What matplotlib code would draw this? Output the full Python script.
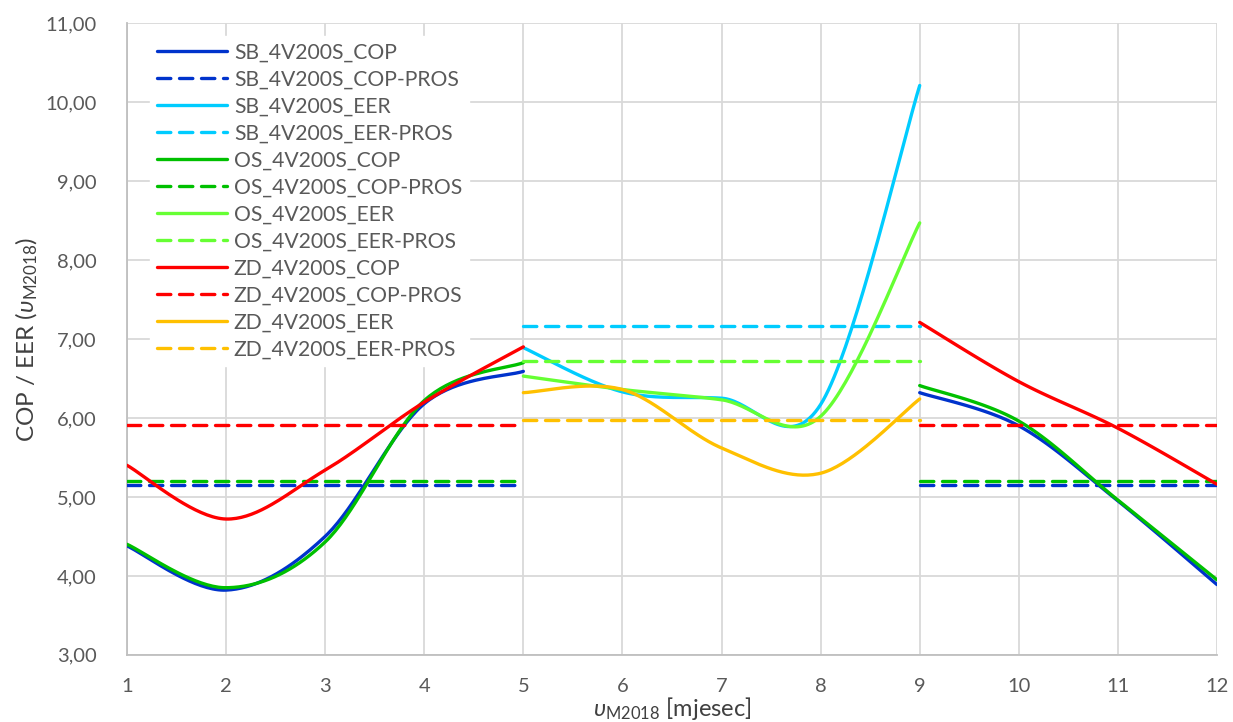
import matplotlib
matplotlib.use('Agg')
import matplotlib.pyplot as plt
import numpy as np

plt.rcParams['font.family'] = ['Lato', 'DejaVu Sans']
plt.rcParams['mathtext.fontset'] = 'custom'
plt.rcParams['mathtext.rm'] = 'Lato'
plt.rcParams['mathtext.it'] = 'Lato:italic'

# values
months_cop_a = [1, 2, 3, 4, 5]
months_cop_b = [9, 10, 11, 12]
months_eer = [5, 6, 7, 8, 9]

sb_cop_a = [4.38, 3.82, 4.50, 6.18, 6.59]
os_cop_a = [4.40, 3.85, 4.43, 6.22, 6.70]
zd_cop_a = [5.40, 4.72, 5.34, 6.20, 6.90]
sb_cop_b = [6.32, 5.90, 4.95, 3.89]
os_cop_b = [6.41, 5.96, 4.96, 3.95]
zd_cop_b = [7.21, 6.46, 5.87, 5.16]

sb_eer = [6.89, 6.33, 6.25, 6.17, 10.21]
os_eer = [6.53, 6.36, 6.23, 6.02, 8.47]
zd_eer = [6.32, 6.36, 5.62, 5.30, 6.24]

sb_cop_pros = 5.15
os_cop_pros = 5.20
zd_cop_pros = 5.91
sb_eer_pros = 7.17
os_eer_pros = 6.72
zd_eer_pros = 5.97

y_ticks = [3, 4, 5, 6, 7, 8, 9, 10, 11]
x_ticks = list(range(1, 13))

colors = {'SB_COP': '#0033CC', 'SB_EER': '#00CCFF', 'OS_COP': '#00C000',
          'OS_EER': '#66FF33', 'ZD_COP': '#FF0000', 'ZD_EER': '#FFC000'}


def smooth(xs, ys, n=40):
    # Excel-like smoothed line: cubic Bezier through the points
    xs = np.asarray(xs, float)
    ys = np.asarray(ys, float)
    px = np.concatenate([[xs[0]], xs, [xs[-1]]])
    py = np.concatenate([[ys[0]], ys, [ys[-1]]])
    out_x, out_y = [], []
    t = np.linspace(0, 1, n)
    for i in range(1, len(px) - 2):
        p0 = np.array([px[i], py[i]])
        p3 = np.array([px[i + 1], py[i + 1]])
        c1 = p0 + (np.array([px[i + 1], py[i + 1]]) - np.array([px[i - 1], py[i - 1]])) / 6
        c2 = p3 - (np.array([px[i + 2], py[i + 2]]) - np.array([px[i], py[i]])) / 6
        b = ((1 - t) ** 3)[:, None] * p0 + (3 * (1 - t) ** 2 * t)[:, None] * c1 \
            + (3 * (1 - t) * t ** 2)[:, None] * c2 + (t ** 3)[:, None] * p3
        out_x.extend(b[:, 0])
        out_y.extend(b[:, 1])
    return out_x, out_y


fig = plt.figure(figsize=(12.33, 7.22), dpi=100)
ax = fig.add_axes([0.103, 0.093, 0.884, 0.875])

lw = 2.4
dash = (0, (4, 2.6))

series = [
    ('SB_4V200S_COP', 'SB_COP', [(months_cop_a, sb_cop_a), (months_cop_b, sb_cop_b)], None),
    ('SB_4V200S_COP-PROS', 'SB_COP', None, sb_cop_pros),
    ('SB_4V200S_EER', 'SB_EER', [(months_eer, sb_eer)], None),
    ('SB_4V200S_EER-PROS', 'SB_EER', None, sb_eer_pros),
    ('OS_4V200S_COP', 'OS_COP', [(months_cop_a, os_cop_a), (months_cop_b, os_cop_b)], None),
    ('OS_4V200S_COP-PROS', 'OS_COP', None, os_cop_pros),
    ('OS_4V200S_EER', 'OS_EER', [(months_eer, os_eer)], None),
    ('OS_4V200S_EER-PROS', 'OS_EER', None, os_eer_pros),
    ('ZD_4V200S_COP', 'ZD_COP', [(months_cop_a, zd_cop_a), (months_cop_b, zd_cop_b)], None),
    ('ZD_4V200S_COP-PROS', 'ZD_COP', None, zd_cop_pros),
    ('ZD_4V200S_EER', 'ZD_EER', [(months_eer, zd_eer)], None),
    ('ZD_4V200S_EER-PROS', 'ZD_EER', None, zd_eer_pros),
]

handles = []
for i, (label, key, parts, pros) in enumerate(series):
    c = colors[key]
    if parts is not None:
        for xs, ys in parts:
            sx, sy = smooth(xs, ys)
            h, = ax.plot(sx, sy, color=c, lw=lw, solid_capstyle='round', zorder=3 + i)
    else:
        if 'COP' in key:
            spans = [months_cop_a, months_cop_b]
        else:
            spans = [months_eer]
        for xs in spans:
            h, = ax.plot([xs[0], xs[-1]], [pros, pros], color=c, lw=lw, linestyle=dash,
                         dash_capstyle='round', zorder=3 + i)
    h.set_label(label)
    handles.append(h)

ax.set_xlim(1, 12)
ax.set_ylim(3, 11)
ax.set_xticks(x_ticks)
ax.set_yticks(y_ticks)
ax.set_yticklabels([f'{v:.2f}'.replace('.', ',') for v in y_ticks])
ax.grid(True, color='#D9D9D9', lw=1.3)
ax.set_axisbelow(True)
for s in ['top', 'right']:
    ax.spines[s].set_visible(False)
for s in ['left', 'bottom']:
    ax.spines[s].set_color('#BFBFBF')
    ax.spines[s].set_linewidth(1.3)
ax.tick_params(length=0, labelsize=14.5, labelcolor='#595959')
ax.tick_params(axis='x', pad=17)
ax.tick_params(axis='y', pad=22)

ax.set_xlabel(r'$\mathit{\upsilon}$$_{\mathrm{M2018}}$ [mjesec]', fontsize=17, color='#404040', labelpad=0)
ax.set_ylabel(r'COP / EER ($\mathit{\upsilon}$$_{\mathrm{M2018}}$)', fontsize=17.5, color='#404040', labelpad=4)

leg = ax.legend(handles=handles, loc='upper left', bbox_to_anchor=(0.0215, 0.979), frameon=True,
                fontsize=15.2, handlelength=3.35, handletextpad=0.3, labelspacing=0.33,
                borderpad=0.3, borderaxespad=0)
leg.get_frame().set_facecolor('white')
leg.get_frame().set_edgecolor('white')
leg.get_frame().set_alpha(1)
leg.set_zorder(20)
for t in leg.get_texts():
    t.set_color('#595959')

fig.savefig('out.png', dpi=100)
